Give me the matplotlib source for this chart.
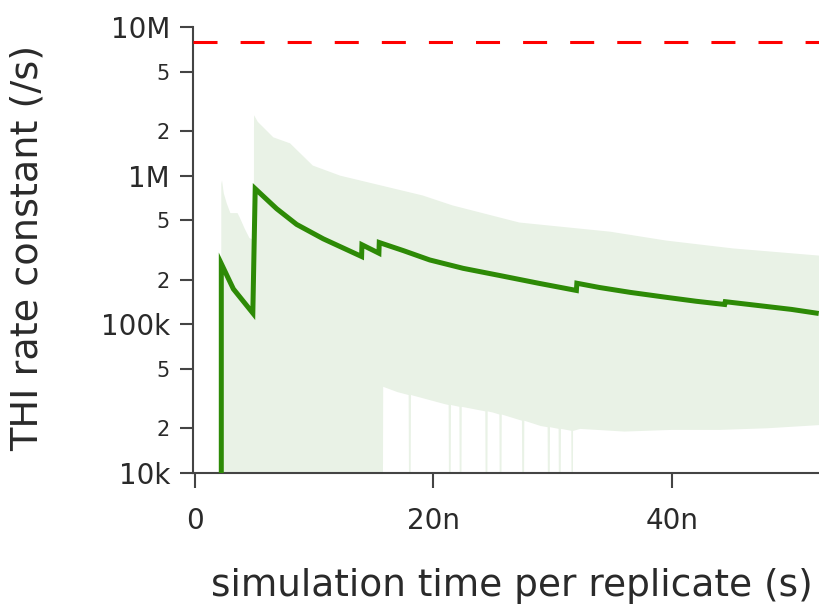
import numpy as np
import matplotlib
matplotlib.use("Agg")
import matplotlib.pyplot as plt
from matplotlib.ticker import FixedLocator, FixedFormatter

plt.rcParams['font.family'] = ['DejaVu Sans']
plt.rcParams['lines.scale_dashes'] = False

# ---- data (time in ns, rate in 1/s) ----
FLOOR = 1e3  # value below the visible axis range (line/band start at the bottom)

line_t = [2.24, 2.24, 3.25, 4.88, 5.08, 6.88, 8.55, 10.78, 13.99, 14.02, 15.44, 15.47,
          17.5, 19.7, 22.5, 25.56, 28.8, 31.98, 32.02, 33.9, 36.5, 39.5, 42.0,
          44.4, 44.45, 47.5, 50.0, 52.07]
line_k = [FLOOR, 256e3, 173e3, 119e3, 817e3, 599e3, 470e3, 376e3, 286e3, 343e3, 301e3, 355e3,
          313e3, 271e3, 238e3, 213e3, 189e3, 169e3, 189e3, 177e3, 164e3, 152e3, 143e3,
          136e3, 142e3, 133e3, 126e3, 119e3]

band_upper_t = [2.24, 2.3, 2.45, 2.7, 3.0, 3.6, 3.8, 4.2, 4.6, 4.97,
                4.98, 5.3, 6.6, 8.0, 9.9, 12.2, 14.9, 19.1, 21.6, 27.2,
                34.8, 39.5, 45.1, 52.3]
band_upper_k = [880e3, 930e3, 760e3, 650e3, 560e3, 560e3, 520e3, 440e3, 380e3, 370e3,
                2.55e6, 2.3e6, 1.81e6, 1.65e6, 1.17e6, 1.0e6, 887e3, 736e3, 631e3, 484e3,
                420e3, 366e3, 324e3, 290e3]

band_lower_t = [2.24, 15.75, 15.8, 17.0, 21.0, 25.0, 29.0, 31.7, 32.3, 36.0, 40.0, 44.0, 48.0, 52.3]
band_lower_k = [FLOOR, FLOOR, 38e3, 35e3, 29e3, 25.5e3, 20.7e3, 19.2e3, 19.8e3, 19e3, 19.5e3, 19.5e3, 20e3, 21e3]

# positions (ns) where the lower edge of the band drops to the bottom
lower_dips_t = [18.03, 21.38, 22.28, 24.45, 25.63, 27.52, 29.67, 30.59, 31.65]

reference_k = 7.9e6

x_ticks = [0, 20, 40]
x_ticklabels = ['0', '20n', '40n']
y_major = [1e4, 1e5, 1e6, 1e7]
y_major_labels = ['10k', '100k', '1M', '10M']
y_minor = [2e4, 5e4, 2e5, 5e5, 2e6, 5e6]
y_minor_labels = ['2', '5', '2', '5', '2', '5']

# ---- build band lower edge including dips ----
lt = list(band_lower_t)
lk = list(band_lower_k)
eps = 0.1
for d in lower_dips_t:
    v = np.interp(d, band_lower_t, band_lower_k)
    lt += [d - eps, d - 0.02, d + 0.02, d + eps]
    lk += [v, FLOOR, FLOOR, v]
order = np.argsort(lt, kind='stable')
lt = np.array(lt)[order]
lk = np.array(lk)[order]

# ---- figure ----
W, H = 819, 604
fig = plt.figure(figsize=(W / 100, H / 100), dpi=100)
ax = fig.add_axes([193 / W, 1 - 473 / H, (W - 193) / W, (473 - 27) / H])
ax.set_yscale('log')
ax.set_xlim(-0.13, 52.3)
ax.set_ylim(1e4, 1e7)

band_x = np.concatenate([band_upper_t, lt[::-1]])
band_y = np.concatenate([band_upper_k, lk[::-1]])
ax.fill(band_x, band_y, color='#e9f2e6', lw=0, zorder=1)

ax.plot(line_t, line_k, color='#2d8a06', lw=3.6, solid_joinstyle='miter', zorder=3)

ax.axhline(reference_k, color='#ff0000', lw=2.2, dashes=(17.3, 16.6), zorder=4)

# spines
for s in ['top', 'right']:
    ax.spines[s].set_visible(False)
for s in ['left', 'bottom']:
    ax.spines[s].set_color('#444444')
    ax.spines[s].set_linewidth(1.5)

txt = '#2a2a2a'
ax.xaxis.set_major_locator(FixedLocator(x_ticks))
ax.xaxis.set_major_formatter(FixedFormatter(x_ticklabels))
ax.tick_params(axis='x', which='major', direction='out', length=10.5, width=1.5,
               color='#444444', labelsize=20, labelcolor=txt, pad=14)

ax.yaxis.set_major_locator(FixedLocator(y_major))
ax.yaxis.set_major_formatter(FixedFormatter(y_major_labels))
ax.yaxis.set_minor_locator(FixedLocator(y_minor))
ax.yaxis.set_minor_formatter(FixedFormatter(y_minor_labels))
ax.tick_params(axis='y', which='major', direction='out', length=9.5, width=1.5,
               color='#444444', labelsize=20, labelcolor=txt, pad=7)
ax.tick_params(axis='y', which='minor', direction='out', length=9.5, width=1.5,
               color='#444444', labelsize=15, labelcolor=txt, pad=7)

fig.text(28 / W, 1 - 248 / H, 'THI rate constant (/s)', rotation=90, ha='center', va='center',
         fontsize=27.5, color=txt)
fig.text(512 / W, 1 - 586 / H, 'simulation time per replicate (s)', ha='center', va='center',
         fontsize=27, color=txt)

fig.savefig('out.png', dpi=100)
